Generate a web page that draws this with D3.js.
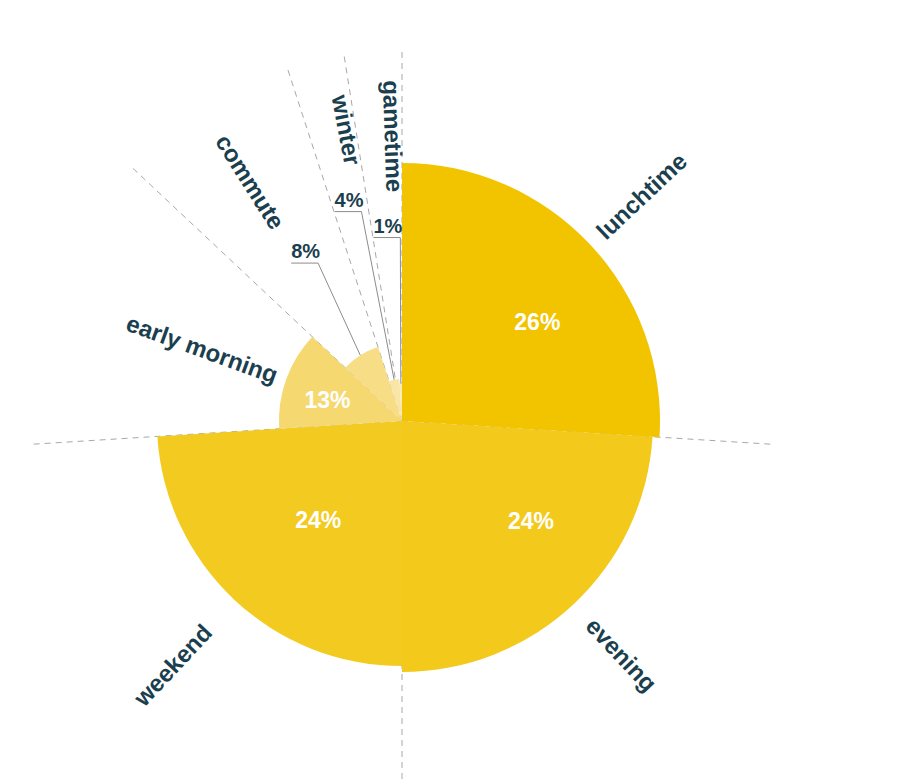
<!DOCTYPE html>
<html>
<head>
<meta charset="utf-8">
<script src="https://d3js.org/d3.v7.min.js"></script>
<style>
  html, body { margin: 0; padding: 0; background: #ffffff; }
  svg { display: block; }
</style>
</head>
<body>
<svg id="chart" width="898" height="784"></svg>
<script>
// ---- data ----
const categories  = ["lunchtime", "evening", "weekend", "early morning", "commute", "winter", "gametime"];
const shares      = [26, 24, 24, 13, 8, 4, 1];            // percent -> angular width
const reach       = [100, 97.3, 95, 47.7, 30.2, 16.3, 14.5]; // relative radial extent
const shareLabels = ["26%", "24%", "24%", "13%", "8%", "4%", "1%"];

// ---- layout / style ----
const W = 898, H = 784;
const cx = 402, cy = 421;
const maxR = 258;
const colors = ["#F2C400", "#F3CA1C", "#F3CB20", "#F6D871", "#F7DD86", "#F9E6A6", "#FAEAB4"];
const textDark = "#1B3F4E";
const FONT = "'Liberation Sans', Arial, Helvetica, sans-serif";
const calloutMin = 10;          // shares below this get an outside callout
const labelGap   = [14, 24, 39, 10];              // outer label gap beyond slice edge
const insideNudge = [7, -9, -3, -4];              // deg
const insideFactor = [0.65, 0.65, 0.53, 0.63];
const calloutNudge = [1, -3.4, -2.6];             // deg, for callout slices in order
const calloutR = [185, 216, 184];
const guideR = 372;
const minGapDeg = 9;

const svg = d3.select("#chart");
const g = svg.append("g").attr("transform", `translate(${cx},${cy})`);

const rScale = d3.scaleLinear().domain([0, 100]).range([0, maxR]);

const data = categories.map((c, i) => ({ name: c, share: shares[i], reach: reach[i], label: shareLabels[i], i }));
const pie = d3.pie().sort(null).value(d => d.share).startAngle(0).endAngle(2 * Math.PI);
const arcs = pie(data);

const deg = r => r * 180 / Math.PI;
const rad = d => d * Math.PI / 180;
const polar = (aDeg, r) => [r * Math.sin(rad(aDeg)), -r * Math.cos(rad(aDeg))];

// ---- guide (dashed) separators ----
const seps = [0];
{
  let prev = 360;
  const tmp = [];
  for (let k = arcs.length - 1; k >= 1; k--) {
    const s = Math.min(deg(arcs[k].startAngle), prev - minGapDeg);
    tmp.push(s);
    prev = s;
  }
  seps.push(...tmp);
}
g.append("g").selectAll("line").data(seps).join("line")
  .attr("x1", 0).attr("y1", 0)
  .attr("x2", d => polar(d, guideR)[0])
  .attr("y2", d => polar(d, guideR)[1])
  .attr("stroke", "#a8a8a8")
  .attr("stroke-width", 1)
  .attr("stroke-dasharray", "6,5");

// ---- slices ----
const arc = d3.arc().innerRadius(0).outerRadius(d => rScale(d.data.reach));
g.append("g").selectAll("path").data(arcs).join("path")
  .attr("d", arc)
  .attr("fill", d => colors[d.data.i]);

// ---- category labels (radial) ----
let cIdx = 0;
const callouts = [];
arcs.forEach((a, i) => {
  const mid = deg((a.startAngle + a.endAngle) / 2);
  const R = rScale(a.data.reach);
  let startR;
  if (a.data.share < calloutMin) {
    const k = cIdx++;
    const ang = mid + calloutNudge[k];
    const cr = calloutR[k];
    callouts.push({ a, mid, R, ang, cr });
    startR = cr + 45;
  } else {
    startR = R + labelGap[i];
  }
  const [x, y] = polar(mid, startR);
  const flip = mid > 180;
  const rot = flip ? mid - 270 : mid - 90;
  g.append("text")
    .attr("transform", `translate(${x},${y}) rotate(${rot})`)
    .attr("text-anchor", flip ? "end" : "start")
    .attr("dy", "0.35em")
    .attr("font-family", FONT)
    .attr("font-weight", "bold")
    .attr("font-size", 24)
    .attr("fill", textDark)
    .text(a.data.name);

  if (a.data.share >= calloutMin) {
    const [lx, ly] = polar(mid + insideNudge[i], R * insideFactor[i]);
    g.append("text")
      .attr("x", lx).attr("y", ly)
      .attr("text-anchor", "middle")
      .attr("dy", "0.35em")
      .attr("font-family", FONT)
      .attr("font-weight", "bold")
      .attr("font-size", 23)
      .attr("fill", "#ffffff")
      .text(a.data.label);
  }
});

// ---- callouts for small slices ----
callouts.forEach(c => {
  const [px, py] = polar(c.ang, c.cr);
  const t = g.append("text")
    .attr("x", px).attr("y", py - 5)
    .attr("text-anchor", "middle")
    .attr("font-family", FONT)
    .attr("font-weight", "bold")
    .attr("font-size", 20)
    .attr("fill", textDark)
    .text(c.a.data.label);
  const w = t.node().getComputedTextLength();
  const half = Math.max(6, w / 2 - 2);
  const [ex, ey] = polar(c.mid, c.R);
  g.append("path")
    .attr("d", `M${px - half - 2},${py} L${px + half},${py} L${ex},${ey}`)
    .attr("fill", "none")
    .attr("stroke", "#8c8c8c")
    .attr("stroke-width", 1);
});
</script>
</body>
</html>
